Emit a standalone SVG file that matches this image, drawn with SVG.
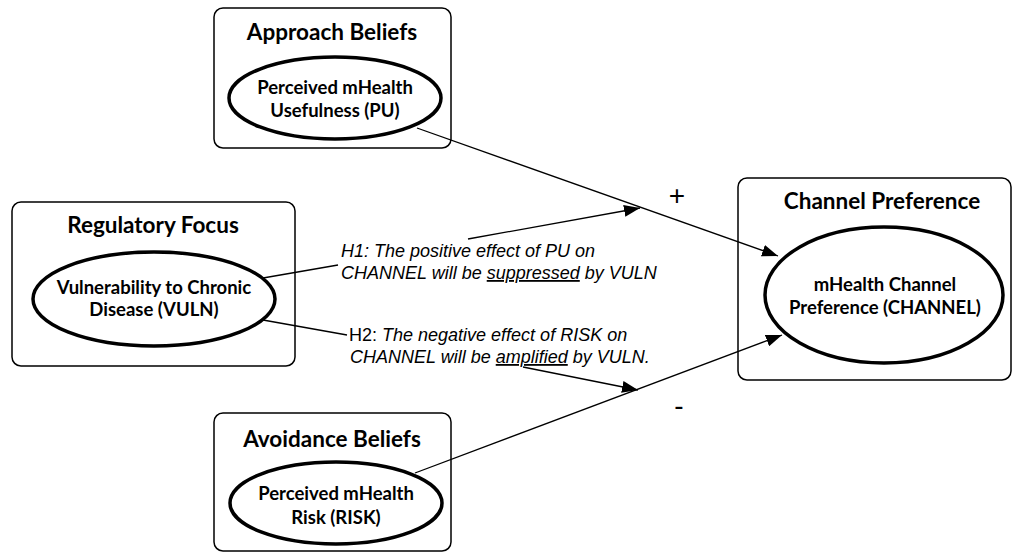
<svg xmlns="http://www.w3.org/2000/svg" width="1012" height="556" viewBox="0 0 1012 556">
<style>
.box{fill:#fff;stroke:#000;stroke-width:1.5}
.ell{fill:#fff;stroke:#000;stroke-width:3.5}
.title{font-family:Lato,"Open Sans",sans-serif;font-weight:bold;font-size:22.5px;text-anchor:middle;fill:#000}
.etext{font-family:Lato,"Open Sans",sans-serif;font-weight:bold;font-size:18.5px;text-anchor:middle;fill:#000}
.hyp{font-family:"Liberation Sans",Arial,sans-serif;font-style:italic;font-size:18px;fill:#000}
.sign{font-family:"Liberation Sans",Arial,sans-serif;font-size:28px;text-anchor:middle;fill:#000}
.conn{fill:none;stroke:#000;stroke-width:1.3}
</style>
<defs>
<marker id="arr" markerUnits="userSpaceOnUse" markerWidth="18" markerHeight="12" refX="16" refY="6" orient="auto">
<path d="M0,0 L16,6 L0,12 Z" fill="#000"/>
</marker>
</defs>
<g id="approach">
<rect class="box" x="214" y="8" width="237" height="140" rx="9"/>
<text class="title" x="332" y="40">Approach Beliefs</text>
<ellipse class="ell" cx="335" cy="98" rx="106" ry="41"/>
<text class="etext" x="335" y="94">Perceived mHealth</text>
<text class="etext" x="335" y="117">Usefulness (PU)</text>
</g>
<g id="regulatory">
<rect class="box" x="12" y="202" width="283" height="164" rx="9"/>
<text class="title" x="153" y="233">Regulatory Focus</text>
<ellipse class="ell" cx="154" cy="299" rx="121" ry="47"/>
<text class="etext" x="154" y="294">Vulnerability to Chronic</text>
<text class="etext" x="154" y="316">Disease (VULN)</text>
</g>
<g id="channel">
<rect class="box" x="738" y="178" width="273" height="202" rx="9"/>
<text class="title" x="882" y="209">Channel Preference</text>
<ellipse class="ell" cx="884" cy="295" rx="119" ry="68"/>
<text class="etext" x="885" y="291">mHealth Channel</text>
<text class="etext" x="885" y="314">Preference (CHANNEL)</text>
</g>
<g id="avoidance">
<rect class="box" x="214" y="413" width="237" height="138" rx="9"/>
<text class="title" x="332" y="447">Avoidance Beliefs</text>
<ellipse class="ell" cx="336" cy="503" rx="106" ry="41"/>
<text class="etext" x="336" y="500">Perceived mHealth</text>
<text class="etext" x="336" y="524">Risk (RISK)</text>
</g>
<g id="h1">
<text class="hyp" x="341" y="257">H1: The positive effect of PU on</text>
<text class="hyp" x="341" y="279">CHANNEL will be <tspan text-decoration="underline">suppressed</tspan> by VULN</text>
</g>
<g id="h2">
<text class="hyp" x="349" y="341"><tspan font-style="normal">H2:</tspan> The negative effect of RISK on</text>
<text class="hyp" x="350" y="363">CHANNEL will be <tspan text-decoration="underline">amplified</tspan> by VULN.</text>
</g>
<g id="signs">
<text class="sign" x="677" y="205">+</text>
<text class="sign" x="679" y="415">-</text>
</g>
<g id="connectors">
<line class="conn" x1="417" y1="128" x2="778" y2="256" marker-end="url(#arr)"/>
<line class="conn" x1="415" y1="473" x2="782" y2="335" marker-end="url(#arr)"/>
<line class="conn" x1="263" y1="278" x2="338" y2="265"/>
<line class="conn" x1="468" y1="239" x2="640" y2="208" marker-end="url(#arr)"/>
<line class="conn" x1="263" y1="320" x2="347" y2="335"/>
<line class="conn" x1="523" y1="367" x2="638" y2="390" marker-end="url(#arr)"/>
</g>
</svg>
